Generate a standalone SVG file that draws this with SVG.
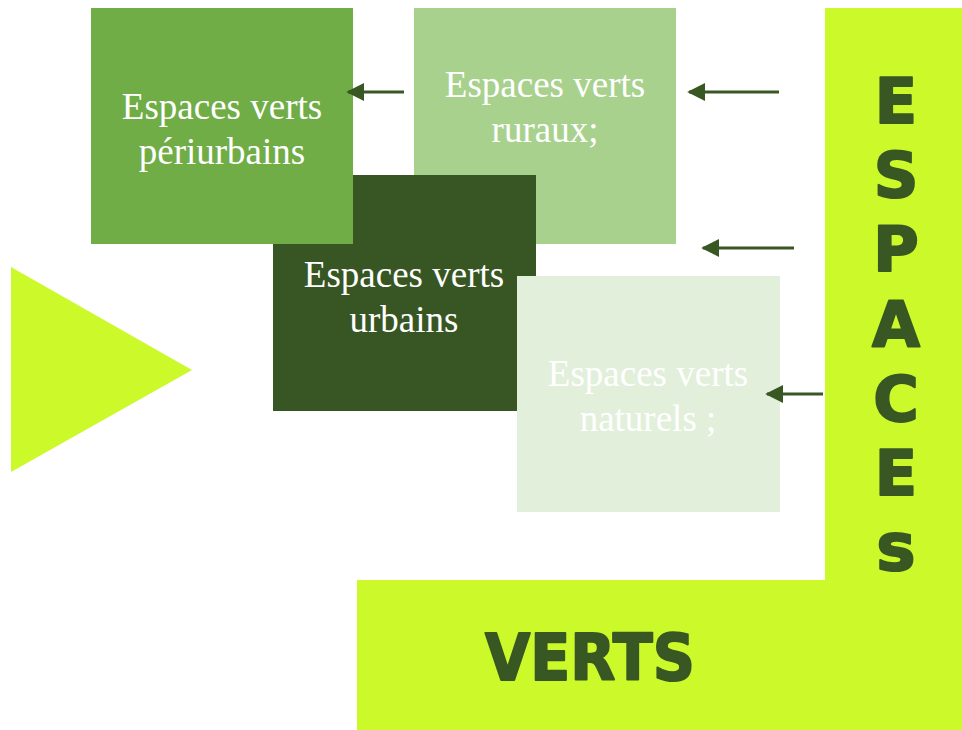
<svg xmlns="http://www.w3.org/2000/svg" width="962" height="730" viewBox="0 0 962 730">
<style>
.box-text{font-family:"Liberation Serif","Times New Roman",serif;font-size:37px;fill:#ffffff;text-anchor:middle}
.big{font-family:"DejaVu Sans",sans-serif;font-weight:bold;fill:#385723;stroke:#385723;stroke-width:2;stroke-linejoin:round;text-anchor:middle}
.conn{stroke:#385723;stroke-width:3;fill:none}
</style>
<defs>
<marker id="ah" viewBox="0 0 10 10" refX="9" refY="5" markerWidth="6" markerHeight="6" markerUnits="strokeWidth" orient="auto">
<path d="M0,0 L10,5 L0,10 Z" fill="#385723"/>
</marker>
</defs>
<g id="background-shapes">
<polygon points="11,267 192,370 11,472" fill="#CCF92A"/>
<rect x="825" y="8" width="137" height="572" fill="#CCF92A"/>
<rect x="357" y="580" width="605" height="150" fill="#CCF92A"/>
</g>
<g id="node-ruraux">
<rect x="414" y="8" width="262" height="236" fill="#A9D18E"/>
<text class="box-text" x="545" y="97">Espaces verts</text>
<text class="box-text" x="545" y="142">ruraux;</text>
</g>
<g id="node-urbains">
<rect x="273" y="175" width="263" height="236" fill="#375623"/>
<text class="box-text" x="404" y="287">Espaces verts</text>
<text class="box-text" x="404" y="332">urbains</text>
</g>
<g id="node-periurbains">
<rect x="91" y="8" width="262" height="236" fill="#70AD47"/>
<text class="box-text" x="222" y="119">Espaces verts</text>
<text class="box-text" x="222" y="164">périurbains</text>
</g>
<g id="node-naturels">
<rect x="517" y="276" width="263" height="236" fill="#E2EFDA"/>
<text class="box-text" x="648" y="386">Espaces verts</text>
<text class="box-text" x="648" y="431">naturels ;</text>
</g>
<g id="title-espaces">
<text class="big" font-size="62" x="896" y="123">E</text>
<text class="big" font-size="62" x="896" y="197">S</text>
<text class="big" font-size="62" x="896" y="271">P</text>
<text class="big" font-size="62" x="896" y="346">A</text>
<text class="big" font-size="62" x="896" y="421">C</text>
<text class="big" font-size="62" x="896" y="495">E</text>
<text class="big" font-size="66" x="896" y="570">s</text>
</g>
<g id="title-verts">
<text class="big" font-size="64" x="590" y="680" textLength="210" lengthAdjust="spacingAndGlyphs">VERTS</text>
</g>
<g id="connectors">
<line class="conn" x1="404" y1="92" x2="348" y2="92" marker-end="url(#ah)"/>
<line class="conn" x1="779" y1="92" x2="689" y2="92" marker-end="url(#ah)"/>
<line class="conn" x1="794" y1="248" x2="703" y2="248" marker-end="url(#ah)"/>
<line class="conn" x1="823" y1="394" x2="767" y2="394" marker-end="url(#ah)"/>
</g>
</svg>
